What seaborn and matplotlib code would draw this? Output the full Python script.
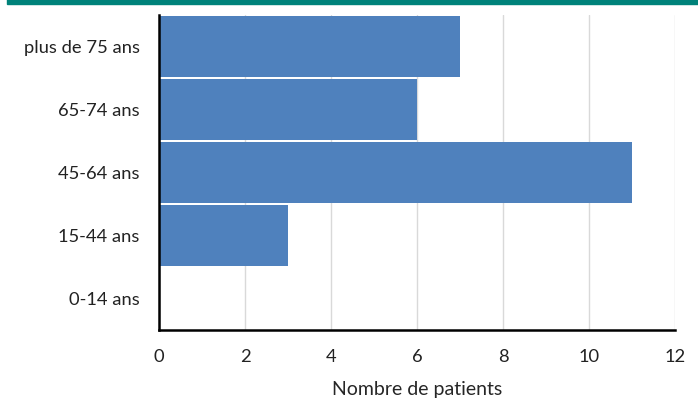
import matplotlib
matplotlib.use("Agg")
import matplotlib.pyplot as plt
import matplotlib.patches as mpatches
import seaborn as sns
import pandas as pd

# tranches d'age (du haut vers le bas) et nombre de patients
tranches = ["plus de 75 ans", "65-74 ans", "45-64 ans", "15-44 ans", "0-14 ans"]
patients = [7, 6, 11, 3, 0]

df = pd.DataFrame({"tranche": tranches, "patients": patients})

sns.set_style("white")
plt.rcParams["font.family"] = ["Lato", "DejaVu Sans"]

fig = plt.figure(figsize=(6.98, 4.01), dpi=100)
ax = fig.add_axes([0.228, 0.177, 0.739, 0.786])

sns.barplot(data=df, x="patients", y="tranche", order=tranches,
            color="#4F81BD", saturation=1, width=0.97, ax=ax,
            edgecolor="none")

ax.set_xlim(0, 12)
ax.set_xticks(range(0, 13, 2))
ax.xaxis.grid(True, color="#D9D9D9", linewidth=1)
ax.set_axisbelow(True)
ax.set_ylabel("")
ax.set_xlabel("Nombre de patients", fontsize=14, labelpad=11)
ax.tick_params(axis="both", length=0, labelsize=13.2, colors="#222222")
ax.tick_params(axis="x", pad=14)
ax.tick_params(axis="y", pad=14)

for s in ["top", "right"]:
    ax.spines[s].set_visible(False)
ax.spines["left"].set_color("black")
ax.spines["left"].set_linewidth(1.8)
ax.spines["bottom"].set_color("black")
ax.spines["bottom"].set_linewidth(1.8)

# bandeau vert en haut
fig.add_artist(mpatches.Rectangle((0.01, 0.99), 0.99, 0.012,
                                  transform=fig.transFigure,
                                  color="#00827A", clip_on=False))

fig.savefig("out.png", dpi=100)
